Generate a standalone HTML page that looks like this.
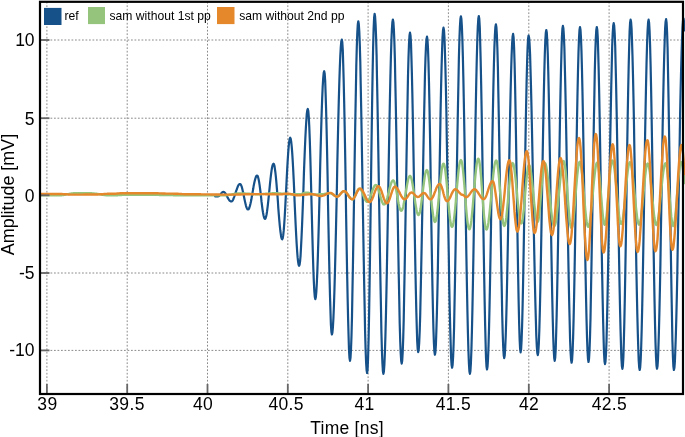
<!DOCTYPE html>
<html><head><meta charset="utf-8"><style>
html,body{margin:0;padding:0;background:#fff;}
body{width:685px;height:437px;overflow:hidden;position:relative;}
svg{position:absolute;left:0;top:0;will-change:transform;}
text{font-family:"Liberation Sans",sans-serif;fill:#000;}
</style></head><body>
<svg width="685" height="437" viewBox="0 0 685 437">
<defs><clipPath id="c"><rect x="41" y="0" width="644" height="393"/></clipPath></defs>
<g stroke="#8a8a8a" stroke-width="1" stroke-dasharray="1.75 1.75" fill="none">
<line x1="46.9" y1="1.8" x2="46.9" y2="394"/>
<line x1="127.2" y1="1.8" x2="127.2" y2="394"/>
<line x1="207.5" y1="1.8" x2="207.5" y2="394"/>
<line x1="287.8" y1="1.8" x2="287.8" y2="394"/>
<line x1="368.1" y1="1.8" x2="368.1" y2="394"/>
<line x1="448.4" y1="1.8" x2="448.4" y2="394"/>
<line x1="528.8" y1="1.8" x2="528.8" y2="394"/>
<line x1="609.1" y1="1.8" x2="609.1" y2="394"/>
<line x1="40" y1="40.0" x2="683" y2="40.0"/>
<line x1="40" y1="118.2" x2="683" y2="118.2"/>
<line x1="40" y1="273.0" x2="683" y2="273.0"/>
<line x1="40" y1="350.4" x2="683" y2="350.4"/>
</g>
<g clip-path="url(#c)" fill="none" stroke-linejoin="round" stroke-linecap="round">
<path d="M215.0 196.3L215.5 196.3 216.0 196.3 216.5 196.3 217.0 196.3 217.5 196.3 218.0 196.3 218.5 196.2 219.0 196.0 219.4 195.5 219.9 195.0 220.4 194.4 220.9 193.8 221.4 193.2 221.9 192.7 222.3 192.2 222.8 192.0 223.3 191.9 223.8 192.0 224.3 192.3 224.8 192.7 225.3 193.3 225.8 194.0 226.3 194.9 226.8 195.8 227.2 196.7 227.7 197.6 228.2 198.5 228.7 199.4 229.2 200.1 229.7 200.7 230.2 201.1 230.7 201.4 231.2 201.5 231.7 201.4 232.2 201.0 232.7 200.3 233.2 199.5 233.6 198.4 234.1 197.1 234.6 195.7 235.1 194.3 235.6 192.8 236.1 191.2 236.6 189.8 237.1 188.4 237.6 187.1 238.0 186.0 238.5 185.2 239.0 184.5 239.5 184.1 240.0 184.0 240.5 184.2 241.0 185.0 241.5 186.1 242.0 187.7 242.5 189.7 243.0 191.9 243.5 194.3 244.0 196.8 244.5 199.2 245.0 201.6 245.5 203.8 246.0 205.8 246.5 207.4 247.0 208.5 247.5 209.3 248.0 209.5 248.5 209.3 249.0 208.6 249.4 207.5 249.9 205.9 250.4 204.0 250.9 201.8 251.4 199.3 251.8 196.7 252.3 193.9 252.8 191.1 253.3 188.3 253.7 185.7 254.2 183.2 254.7 181.0 255.2 179.1 255.7 177.5 256.1 176.4 256.6 175.7 257.1 175.5 257.6 175.9 258.1 177.2 258.6 179.2 259.1 181.9 259.6 185.1 260.1 188.9 260.6 193.0 261.1 197.2 261.5 201.4 262.0 205.5 262.5 209.3 263.0 212.5 263.5 215.2 264.0 217.2 264.5 218.5 265.0 218.9 265.5 218.4 266.0 217.0 266.5 214.8 267.0 211.7 267.5 207.9 268.0 203.6 268.5 198.9 269.0 193.8 269.5 188.8 270.0 183.7 270.5 179.0 271.0 174.7 271.5 170.9 272.0 167.8 272.5 165.6 273.0 164.2 273.5 163.7 274.0 164.3 274.5 166.0 274.9 168.8 275.4 172.5 275.9 177.2 276.4 182.6 276.9 188.6 277.4 194.9 277.9 201.5 278.3 208.1 278.8 214.4 279.3 220.4 279.8 225.8 280.3 230.5 280.8 234.2 281.2 237.0 281.7 238.7 282.2 239.3 282.7 238.3 283.2 235.4 283.7 230.7 284.2 224.4 284.7 216.7 285.2 207.9 285.7 198.4 286.2 188.5 286.7 178.6 287.2 169.1 287.7 160.3 288.2 152.6 288.7 146.3 289.2 141.6 289.7 138.7 290.2 137.7 290.7 138.7 291.2 141.6 291.7 146.3 292.2 152.7 292.7 160.6 293.2 169.7 293.7 179.8 294.2 190.6 294.6 201.8 295.1 212.9 295.6 223.7 296.1 233.8 296.6 242.9 297.1 250.8 297.6 257.2 298.1 261.9 298.6 264.8 299.1 265.8 299.6 264.6 300.1 261.1 300.6 255.3 301.0 247.5 301.5 237.8 302.0 226.6 302.5 214.2 303.0 201.0 303.5 187.4 303.9 173.8 304.4 160.6 304.9 148.2 305.4 137.0 305.9 127.3 306.4 119.5 306.8 113.7 307.3 110.2 307.8 109.0 308.3 111.1 308.8 117.2 309.3 127.2 309.8 140.4 310.3 156.5 310.8 174.7 311.3 194.1 311.8 214.0 312.3 233.4 312.8 251.6 313.3 267.7 313.8 280.9 314.3 290.9 314.8 297.0 315.3 299.1 315.8 297.4 316.3 292.2 316.8 283.8 317.3 272.4 317.8 258.4 318.3 242.1 318.8 224.1 319.3 204.9 319.8 185.2 320.2 165.4 320.7 146.2 321.2 128.2 321.7 111.9 322.2 97.9 322.7 86.5 323.2 78.1 323.7 72.9 324.2 71.2 324.7 73.7 325.2 81.2 325.6 93.4 326.1 109.8 326.6 129.7 327.1 152.5 327.6 177.2 328.0 202.8 328.5 228.5 329.0 253.2 329.5 276.0 330.0 295.9 330.5 312.3 330.9 324.5 331.4 332.0 331.9 334.5 332.4 332.7 332.9 327.3 333.4 318.4 333.9 306.3 334.4 291.3 334.9 273.7 335.4 254.0 335.9 232.6 336.4 210.1 336.9 187.1 337.3 164.0 337.8 141.5 338.3 120.1 338.8 100.4 339.3 82.8 339.8 67.8 340.3 55.7 340.8 46.8 341.3 41.4 341.8 39.6 342.3 42.3 342.8 50.4 343.2 63.7 343.7 81.5 344.2 103.4 344.7 128.6 345.2 156.2 345.7 185.4 346.1 215.0 346.6 244.2 347.1 271.8 347.6 297.0 348.1 318.9 348.6 336.7 349.0 350.0 349.5 358.1 350.0 360.8 350.5 357.9 351.0 349.3 351.5 335.4 352.0 316.5 352.4 293.3 352.9 266.7 353.4 237.5 353.9 206.7 354.4 175.4 354.9 144.6 355.4 115.4 355.9 88.8 356.3 65.6 356.8 46.7 357.3 32.8 357.8 24.2 358.3 21.3 358.8 24.0 359.3 31.9 359.8 44.9 360.3 62.4 360.7 84.1 361.2 109.2 361.7 137.0 362.2 166.6 362.7 197.1 363.2 227.7 363.7 257.3 364.2 285.1 364.7 310.2 365.1 331.9 365.6 349.4 366.1 362.4 366.6 370.3 367.1 373.0 367.6 369.1 368.1 357.5 368.6 338.7 369.1 313.6 369.6 283.2 370.1 248.9 370.6 212.2 371.1 174.6 371.6 137.9 372.1 103.6 372.6 73.2 373.1 48.1 373.6 29.3 374.1 17.7 374.6 13.8 375.1 16.5 375.6 24.7 376.1 37.9 376.6 55.9 377.0 78.1 377.5 103.8 378.0 132.3 378.5 162.6 379.0 193.8 379.5 225.1 380.0 255.4 380.5 283.9 381.0 309.6 381.4 331.8 381.9 349.8 382.4 363.0 382.9 371.2 383.4 373.9 383.9 371.5 384.4 364.3 384.9 352.5 385.4 336.5 385.9 316.7 386.4 293.6 386.9 267.9 387.4 240.2 387.9 211.3 388.4 182.1 388.9 153.2 389.4 125.5 389.9 99.8 390.4 76.7 390.9 56.9 391.4 40.9 391.9 29.1 392.4 21.9 392.9 19.5 393.4 22.1 393.9 29.9 394.4 42.6 394.9 59.8 395.3 81.0 395.8 105.5 396.3 132.7 396.8 161.7 397.3 191.5 397.8 221.4 398.3 250.4 398.8 277.6 399.3 302.1 399.7 323.3 400.2 340.5 400.7 353.2 401.2 361.0 401.7 363.6 402.2 360.8 402.7 352.4 403.2 338.8 403.7 320.4 404.1 297.9 404.6 271.9 405.1 243.4 405.6 213.4 406.1 182.9 406.6 152.9 407.1 124.4 407.6 98.4 408.0 75.9 408.5 57.5 409.0 43.9 409.5 35.5 410.0 32.7 410.5 35.4 411.0 43.5 411.4 56.6 411.9 74.4 412.4 96.2 412.9 121.2 413.4 148.7 413.9 177.7 414.3 207.1 414.8 236.1 415.3 263.6 415.8 288.6 416.3 310.4 416.8 328.2 417.2 341.3 417.7 349.4 418.2 352.1 418.7 349.7 419.2 342.6 419.7 331.0 420.2 315.2 420.6 295.7 421.1 273.2 421.6 248.3 422.1 221.7 422.6 194.4 423.1 167.0 423.6 140.4 424.1 115.5 424.6 93.0 425.0 73.5 425.5 57.7 426.0 46.1 426.5 39.0 427.0 36.6 427.5 39.7 428.0 48.7 428.5 63.4 429.0 83.2 429.5 107.3 430.0 134.8 430.5 164.6 430.9 195.6 431.4 226.7 431.9 256.5 432.4 284.0 432.9 308.1 433.4 327.9 433.9 342.6 434.4 351.6 434.9 354.7 435.4 352.2 435.9 344.8 436.3 332.8 436.8 316.4 437.3 296.3 437.8 272.9 438.2 247.1 438.7 219.6 439.2 191.2 439.7 162.8 440.2 135.3 440.6 109.5 441.1 86.1 441.6 66.0 442.1 49.6 442.5 37.6 443.0 30.2 443.5 27.7 444.0 30.3 444.5 38.0 444.9 50.5 445.4 67.5 445.9 88.4 446.4 112.7 446.8 139.6 447.3 168.2 447.8 197.7 448.3 227.2 448.8 255.8 449.2 282.7 449.7 307.0 450.2 327.9 450.7 344.9 451.1 357.4 451.6 365.1 452.1 367.7 452.6 365.0 453.1 357.1 453.6 344.2 454.1 326.6 454.5 304.9 455.0 279.9 455.5 252.1 456.0 222.5 456.5 192.0 457.0 161.5 457.5 131.9 458.0 104.2 458.5 79.1 458.9 57.4 459.4 39.8 459.9 26.9 460.4 19.0 460.9 16.3 461.4 19.0 461.9 27.1 462.4 40.3 462.9 58.1 463.4 80.2 463.9 105.7 464.4 133.9 464.9 164.1 465.4 195.1 465.9 226.1 466.4 256.3 466.9 284.5 467.4 310.0 467.9 332.1 468.4 349.9 468.9 363.1 469.4 371.2 469.9 373.9 470.4 371.2 470.9 363.1 471.4 349.9 471.9 332.0 472.4 310.0 472.9 284.4 473.4 256.2 473.9 226.0 474.4 195.0 474.8 163.9 475.3 133.7 475.8 105.5 476.3 79.9 476.8 57.9 477.3 40.0 477.8 26.8 478.3 18.7 478.8 16.0 479.3 19.0 479.8 27.9 480.2 42.5 480.7 62.1 481.2 86.2 481.7 114.0 482.2 144.4 482.7 176.4 483.1 209.1 483.6 241.1 484.1 271.5 484.6 299.3 485.1 323.4 485.6 343.0 486.0 357.6 486.5 366.5 487.0 369.5 487.5 366.9 488.0 359.1 488.5 346.4 489.0 329.1 489.5 307.8 490.0 283.2 490.5 255.9 491.0 226.9 491.4 196.9 491.9 166.9 492.4 137.9 492.9 110.6 493.4 86.0 493.9 64.7 494.4 47.4 494.9 34.7 495.4 26.9 495.9 24.3 496.4 27.1 496.9 35.6 497.4 49.3 497.9 67.9 498.3 90.6 498.8 116.8 499.3 145.5 499.8 175.8 500.3 206.6 500.8 236.9 501.3 265.6 501.8 291.8 502.2 314.5 502.7 333.1 503.2 346.8 503.7 355.3 504.2 358.1 504.7 355.6 505.2 348.3 505.7 336.4 506.2 320.2 506.7 300.2 507.2 277.1 507.7 251.4 508.2 224.1 508.6 196.0 509.1 167.9 509.6 140.6 510.1 115.0 510.6 91.8 511.1 71.8 511.6 55.6 512.1 43.7 512.6 36.4 513.1 33.9 513.6 37.4 514.1 47.7 514.6 64.3 515.1 86.6 515.6 113.5 516.1 143.9 516.6 176.5 517.1 209.8 517.6 242.4 518.1 272.8 518.6 299.7 519.1 322.0 519.6 338.6 520.1 348.9 520.6 352.4 521.1 349.4 521.6 340.3 522.1 325.7 522.6 306.0 523.1 282.0 523.6 254.6 524.1 224.9 524.6 194.0 525.1 163.0 525.6 133.3 526.1 105.9 526.6 81.9 527.1 62.2 527.6 47.6 528.1 38.5 528.6 35.5 529.1 37.7 529.6 44.2 530.1 54.8 530.5 69.2 531.0 87.1 531.5 107.9 532.0 131.1 532.5 156.1 533.0 182.1 533.4 208.5 533.9 234.5 534.4 259.5 534.9 282.7 535.4 303.5 535.9 321.4 536.3 335.8 536.8 346.4 537.3 352.9 537.8 355.1 538.3 352.3 538.8 344.1 539.3 330.8 539.8 312.7 540.3 290.5 540.8 265.0 541.3 237.0 541.8 207.5 542.3 177.6 542.8 148.1 543.3 120.1 543.8 94.6 544.3 72.4 544.8 54.3 545.3 41.0 545.8 32.8 546.3 30.0 546.8 32.8 547.3 41.2 547.8 54.8 548.3 73.2 548.8 95.7 549.3 121.7 549.8 150.1 550.3 180.1 550.7 210.7 551.2 240.7 551.7 269.1 552.2 295.1 552.7 317.6 553.2 336.0 553.7 349.6 554.2 358.0 554.7 360.8 555.2 357.9 555.7 349.5 556.1 335.7 556.6 317.1 557.1 294.3 557.6 268.0 558.1 239.2 558.6 208.8 559.0 177.9 559.5 147.5 560.0 118.7 560.5 92.4 561.0 69.6 561.5 51.0 561.9 37.2 562.4 28.8 562.9 25.9 563.4 28.5 563.9 36.1 564.4 48.5 564.8 65.3 565.3 86.1 565.8 110.1 566.3 136.7 566.8 165.1 567.2 194.3 567.7 223.5 568.2 251.9 568.7 278.5 569.2 302.5 569.7 323.3 570.1 340.1 570.6 352.5 571.1 360.1 571.6 362.7 572.1 359.8 572.6 351.4 573.1 337.6 573.6 318.9 574.1 296.0 574.6 269.7 575.1 240.8 575.6 210.3 576.0 179.4 576.5 148.9 577.0 120.0 577.5 93.7 578.0 70.8 578.5 52.1 579.0 38.3 579.5 29.9 580.0 27.0 580.5 29.9 581.0 38.3 581.5 52.1 582.0 70.7 582.5 93.6 583.0 119.8 583.5 148.7 584.0 179.0 584.5 210.0 585.0 240.3 585.5 269.2 586.0 295.4 586.5 318.3 587.0 336.9 587.5 350.7 588.0 359.1 588.5 362.0 589.0 359.1 589.5 350.7 590.0 336.9 590.5 318.3 590.9 295.4 591.4 269.2 591.9 240.3 592.4 210.0 592.9 179.0 593.4 148.7 593.9 119.8 594.4 93.6 594.8 70.7 595.3 52.1 595.8 38.3 596.3 29.9 596.8 27.0 597.3 29.9 597.8 38.4 598.2 52.2 598.7 71.0 599.2 94.0 599.7 120.4 600.2 149.4 600.7 180.0 601.1 211.1 601.6 241.7 602.1 270.7 602.6 297.1 603.1 320.1 603.6 338.9 604.0 352.7 604.5 361.2 605.0 364.1 605.5 361.5 606.0 353.8 606.5 341.3 606.9 324.2 607.4 303.2 607.9 278.9 608.4 251.9 608.9 223.2 609.4 193.6 609.8 164.0 610.3 135.3 610.8 108.4 611.3 84.0 611.8 63.0 612.2 45.9 612.7 33.4 613.2 25.7 613.7 23.1 614.2 25.7 614.7 33.5 615.2 46.3 615.6 63.5 616.1 84.8 616.6 109.5 617.1 136.8 617.6 165.9 618.0 195.9 618.5 226.0 619.0 255.1 619.5 282.4 620.0 307.1 620.5 328.4 621.0 345.6 621.4 358.4 621.9 366.2 622.4 368.8 622.9 365.8 623.4 357.0 623.8 342.6 624.3 323.2 624.8 299.4 625.3 272.0 625.8 242.0 626.3 210.3 626.7 178.1 627.2 146.4 627.7 116.4 628.2 89.0 628.7 65.2 629.2 45.8 629.6 31.4 630.1 22.6 630.6 19.6 631.1 22.0 631.6 29.1 632.0 40.7 632.5 56.5 633.0 76.1 633.5 99.0 634.0 124.4 634.4 151.8 634.9 180.3 635.4 209.3 635.9 237.8 636.3 265.2 636.8 290.6 637.3 313.5 637.8 333.1 638.3 348.9 638.7 360.5 639.2 367.6 639.7 370.0 640.2 367.3 640.7 359.4 641.2 346.5 641.7 329.0 642.2 307.4 642.7 282.4 643.2 254.7 643.7 225.2 644.2 194.8 644.6 164.4 645.1 134.9 645.6 107.2 646.1 82.2 646.6 60.6 647.1 43.1 647.6 30.2 648.1 22.3 648.6 19.6 649.1 22.6 649.6 31.4 650.1 45.7 650.6 65.2 651.1 89.0 651.6 116.3 652.1 146.4 652.6 178.0 653.0 210.3 653.5 241.9 654.0 272.0 654.5 299.3 655.0 323.1 655.5 342.6 656.0 356.9 656.5 365.7 657.0 368.7 657.5 366.3 658.0 359.2 658.4 347.6 658.9 331.9 659.4 312.3 659.9 289.5 660.4 264.1 660.8 236.8 661.3 208.4 661.8 179.5 662.3 151.1 662.7 123.8 663.2 98.4 663.7 75.6 664.2 56.0 664.7 40.3 665.1 28.7 665.6 21.6 666.1 19.2 666.6 22.6 667.1 32.6 667.6 48.8 668.0 70.6 668.5 97.2 669.0 127.5 669.5 160.4 670.0 194.6 670.5 228.8 671.0 261.7 671.5 292.0 672.0 318.6 672.4 340.4 672.9 356.6 673.4 366.6 673.9 370.0 674.4 367.8 674.9 361.4 675.3 350.8 675.8 336.4 676.3 318.5 676.8 297.6 677.3 274.0 677.7 248.6 678.2 221.7 678.7 194.3 679.2 166.8 679.7 139.9 680.1 114.5 680.6 90.9 681.1 70.0 681.6 52.1 682.1 37.7 682.5 27.1 683.0 20.7 683.5 18.5 684.0 21.5 684.5 30.4" stroke="#165189" stroke-width="2.2"/>
<path d="M41.0 195.4L41.5 195.4 42.0 195.4 42.5 195.4 43.0 195.4 43.5 195.4 44.0 195.4 44.5 195.4 45.0 195.4 45.5 195.4 46.0 195.4 46.5 195.4 47.0 195.4 47.5 195.3 48.0 195.3 48.5 195.3 49.0 195.3 49.5 195.3 50.0 195.3 50.5 195.3 51.0 195.3 51.5 195.3 52.0 195.3 52.5 195.3 53.0 195.3 53.5 195.3 54.0 195.2 54.5 195.2 55.0 195.2 55.5 195.2 56.0 195.2 56.5 195.2 57.0 195.2 57.5 195.2 58.0 195.2 58.5 195.2 59.0 195.2 59.5 195.2 60.0 195.2 60.5 195.2 61.0 195.2 61.5 195.2 62.0 195.1 62.5 195.1 63.0 195.0 63.5 195.0 64.0 194.9 64.5 194.8 65.0 194.7 65.5 194.6 66.0 194.5 66.5 194.4 67.0 194.3 67.5 194.2 68.0 194.2 68.5 194.1 69.0 194.0 69.5 193.9 70.0 193.8 70.5 193.7 71.0 193.6 71.5 193.5 72.0 193.5 72.5 193.4 73.0 193.4 73.5 193.3 74.0 193.3 74.5 193.3 75.0 193.3 75.5 193.3 76.0 193.3 76.5 193.3 77.0 193.3 77.5 193.3 78.0 193.3 78.5 193.3 79.0 193.3 79.5 193.3 80.0 193.3 80.5 193.3 81.0 193.3 81.5 193.3 82.0 193.3 82.5 193.3 83.0 193.3 83.5 193.3 84.0 193.3 84.5 193.3 85.0 193.3 85.5 193.3 86.0 193.3 86.5 193.3 87.0 193.3 87.5 193.3 88.0 193.3 88.5 193.3 89.0 193.3 89.5 193.3 90.0 193.3 90.5 193.3 91.0 193.3 91.5 193.3 92.0 193.4 92.5 193.4 93.0 193.4 93.5 193.5 94.0 193.5 94.5 193.6 95.0 193.6 95.5 193.7 96.0 193.7 96.5 193.8 97.0 193.9 97.5 193.9 98.0 194.0 98.5 194.1 99.0 194.2 99.5 194.3 100.0 194.3 100.5 194.4 101.0 194.5 101.5 194.6 102.0 194.7 102.5 194.8 103.0 194.8 103.5 194.9 104.0 195.0 104.5 195.0 105.0 195.1 105.5 195.1 106.0 195.2 106.5 195.2 107.0 195.3 107.5 195.3 108.0 195.3 108.5 195.4 109.0 195.4 109.5 195.4 110.0 195.4 110.5 195.4 111.0 195.4 111.5 195.4 112.0 195.4 112.5 195.4 113.0 195.4 113.5 195.3 114.0 195.3 114.5 195.3 115.0 195.3 115.5 195.3 116.0 195.2 116.5 195.2 117.0 195.2 117.5 195.2 118.0 195.1 118.5 195.1 119.0 195.1 119.5 195.0 120.0 195.0 120.5 195.0 121.0 195.0 121.5 195.0 122.0 194.9 122.5 194.9 123.0 194.9 123.5 194.9 124.0 194.9 124.5 194.9 125.0 194.9 125.5 194.9 126.0 194.9 126.5 194.9 127.0 194.9 127.5 194.9 128.0 194.9 128.5 194.9 129.0 194.9 129.5 194.9 130.0 194.9 130.5 194.9 131.0 194.9 131.5 194.9 132.0 194.9 132.5 194.9 133.0 194.9 133.5 194.9 134.0 194.9 134.5 194.9 135.0 194.9 135.5 194.9 136.0 194.9 136.5 194.9 137.0 194.9 137.5 194.9 138.0 194.9 138.5 194.9 139.0 194.9 139.5 194.9 140.0 194.9 140.5 194.9 141.0 194.9 141.5 194.9 142.0 194.9 142.5 194.9 143.0 194.9 143.5 194.9 144.0 194.9 144.5 194.9 145.0 194.9 145.5 194.9 146.0 194.9 146.5 194.9 147.0 194.9 147.5 194.9 148.0 194.9 148.5 194.9 149.0 194.9 149.5 194.9 150.0 194.9 150.5 194.9 151.0 194.9 151.5 194.9 152.0 194.9 152.5 194.9 153.0 194.9 153.5 194.9 154.0 194.9 154.5 194.9 155.0 194.9 155.5 194.9 156.0 194.9 156.5 194.9 157.0 194.9 157.5 194.9 158.0 194.9 158.5 194.9 159.0 194.9 159.5 195.0 160.0 195.0 160.5 195.0 161.0 195.0 161.5 195.0 162.0 195.0 162.5 195.0 163.0 195.0 163.5 195.0 164.0 195.0 164.5 195.0 165.0 195.0 165.5 195.0 166.0 195.0 166.5 195.0 167.0 195.1 167.5 195.1 168.0 195.1 168.5 195.1 169.0 195.1 169.5 195.1 170.0 195.1 170.5 195.1 171.0 195.1 171.5 195.1 172.0 195.1 172.5 195.1 173.0 195.1 173.5 195.2 174.0 195.2 174.5 195.2 175.0 195.2 175.5 195.2 176.0 195.2 176.5 195.2 177.0 195.2 177.5 195.2 178.0 195.2 178.5 195.2 179.0 195.2 179.5 195.2 180.0 195.2 180.5 195.2 181.0 195.3 181.5 195.3 182.0 195.3 182.5 195.3 183.0 195.3 183.5 195.3 184.0 195.3 184.5 195.3 185.0 195.3 185.5 195.3 186.0 195.3 186.5 195.3 187.0 195.3 187.5 195.3 188.0 195.3 188.5 195.3 189.0 195.3 189.5 195.3 190.0 195.3 190.5 195.3 191.0 195.3 191.5 195.3 192.0 195.3 192.5 195.3 193.0 195.3 193.5 195.3 194.0 195.3 194.5 195.3 195.0 195.3 195.5 195.3 196.0 195.3 196.5 195.3 197.0 195.3 197.5 195.3 198.0 195.3 198.5 195.3 199.0 195.3 199.5 195.3 200.0 195.3 200.5 195.3 201.0 195.3 201.5 195.3 202.0 195.3 202.5 195.3 203.0 195.3 203.5 195.3 204.0 195.3 204.5 195.3 205.0 195.3 205.5 195.3 206.0 195.3 206.5 195.3 207.0 195.3 207.5 195.2 208.0 195.2 208.5 195.2 209.0 195.2 209.5 195.2 210.0 195.2 210.5 195.2 211.0 195.2 211.5 195.2 212.0 195.2 212.5 195.2 213.0 195.2 213.5 195.2 214.0 195.2 214.5 195.2 215.0 195.2 215.5 195.2 216.0 195.2 216.5 195.2 217.0 195.2 217.5 195.2 218.0 195.2 218.5 195.2 219.0 195.2 219.5 195.2 220.0 195.2 220.5 195.2 221.0 195.2 221.5 195.2 222.0 195.2 222.5 195.2 223.0 195.2 223.5 195.2 224.0 195.2 224.5 195.2 225.0 195.2 225.5 195.2 226.0 195.2 226.5 195.2 227.0 195.1 227.5 195.1 228.0 195.0 228.5 195.0 229.0 194.9 229.5 194.8 230.0 194.8 230.5 194.7 231.0 194.6 231.5 194.5 232.0 194.4 232.5 194.3 233.0 194.2 233.5 194.1 234.0 194.0 234.5 193.9 235.0 193.8 235.5 193.8 236.0 193.7 236.5 193.6 237.0 193.6 237.5 193.5 238.0 193.5 238.5 193.4 239.0 193.4 239.5 193.4 240.0 193.4 240.5 193.4 241.0 193.4 241.5 193.4 242.0 193.4 242.5 193.4 243.0 193.5 243.5 193.5 244.0 193.5 244.5 193.5 245.0 193.5 245.5 193.6 246.0 193.6 246.5 193.6 247.0 193.7 247.5 193.7 248.0 193.7 248.5 193.8 249.0 193.8 249.5 193.8 250.0 193.9 250.5 193.9 251.0 193.9 251.5 194.0 252.0 194.0 252.5 194.0 253.0 194.1 253.5 194.1 254.0 194.1 254.5 194.1 255.0 194.1 255.5 194.2 256.0 194.2 256.5 194.2 257.0 194.2 257.5 194.2 258.0 194.2 258.5 194.2 259.0 194.2 259.5 194.2 260.0 194.2 260.5 194.2 261.0 194.1 261.5 194.1 262.0 194.1 262.5 194.1 263.0 194.0 263.5 194.0 264.0 194.0 264.5 193.9 265.0 193.9 265.5 193.8 266.0 193.8 266.5 193.8 267.0 193.7 267.5 193.7 268.0 193.6 268.5 193.6 269.0 193.5 269.5 193.5 270.0 193.5 270.5 193.4 271.0 193.4 271.5 193.4 272.0 193.4 272.5 193.3 273.0 193.3 273.5 193.3 274.0 193.3 274.5 193.3 275.0 193.3 275.5 193.3 276.0 193.3 276.5 193.3 277.0 193.3 277.5 193.4 278.0 193.4 278.5 193.4 279.0 193.4 279.5 193.5 280.0 193.5 280.5 193.5 281.0 193.6 281.5 193.6 282.0 193.7 282.5 193.7 283.0 193.8 283.5 193.8 284.0 193.8 284.5 193.9 285.0 193.9 285.5 194.0 286.0 194.0 286.5 194.1 287.0 194.1 287.5 194.1 288.0 194.2 288.5 194.2 289.0 194.2 289.5 194.2 290.0 194.3 290.5 194.3 291.0 194.3 291.5 194.3 292.0 194.3 292.5 194.3 293.0 194.3 293.5 194.3 294.0 194.3 294.5 194.3 295.0 194.3 295.5 194.3 296.0 194.2 296.5 194.2 297.0 194.2 297.5 194.2 298.0 194.2 298.5 194.2 299.0 194.2 299.5 194.2 300.0 194.2 300.5 194.2 301.0 194.1 301.5 194.0 302.0 193.9 302.5 193.7 303.0 193.6 303.4 193.4 303.9 193.2 304.4 193.1 304.9 192.9 305.4 192.8 305.9 192.7 306.4 192.6 306.9 192.6 307.4 192.6 307.8 192.7 308.3 192.8 308.8 192.9 309.3 193.1 309.7 193.3 310.2 193.5 310.7 193.6 311.2 193.8 311.6 194.0 312.1 194.2 312.6 194.3 313.1 194.4 313.5 194.5 314.0 194.5 314.5 194.5 315.0 194.5 315.5 194.5 315.9 194.5 316.4 194.5 316.9 194.4 317.4 194.4 317.9 194.4 318.4 194.4 318.9 194.4 319.4 194.3 319.8 194.3 320.3 194.3 320.8 194.3 321.3 194.3 321.8 194.3 322.3 194.3 322.8 194.2 323.2 194.2 323.7 194.1 324.2 194.0 324.7 193.9 325.2 193.8 325.6 193.8 326.1 193.7 326.6 193.6 327.1 193.5 327.6 193.4 328.1 193.3 328.6 193.3 329.0 193.2 329.5 193.2 330.0 193.2 330.5 193.2 331.0 193.4 331.5 193.6 332.0 193.8 332.5 194.1 333.0 194.5 333.5 194.8 334.0 195.2 334.5 195.6 335.0 195.9 335.5 196.1 336.0 196.3 336.5 196.5 337.0 196.5 337.5 196.4 337.9 196.3 338.4 196.0 338.9 195.6 339.4 195.2 339.8 194.6 340.3 194.1 340.8 193.5 341.3 193.0 341.7 192.4 342.2 192.0 342.7 191.6 343.2 191.3 343.6 191.2 344.1 191.1 344.6 191.2 345.1 191.4 345.5 191.7 346.0 192.2 346.5 192.7 347.0 193.4 347.5 194.1 348.0 194.8 348.4 195.6 348.9 196.3 349.4 197.0 349.9 197.7 350.4 198.2 350.9 198.7 351.3 199.0 351.8 199.2 352.3 199.3 352.8 199.2 353.3 198.8 353.7 198.3 354.2 197.5 354.7 196.6 355.2 195.6 355.7 194.5 356.1 193.4 356.6 192.3 357.1 191.3 357.6 190.4 358.1 189.6 358.5 189.1 359.0 188.7 359.5 188.6 360.0 188.7 360.4 189.1 360.9 189.7 361.4 190.5 361.9 191.5 362.4 192.7 362.8 193.9 363.3 195.2 363.8 196.5 364.2 197.7 364.7 198.9 365.2 199.9 365.7 200.7 366.2 201.3 366.6 201.7 367.1 201.8 367.6 201.7 368.1 201.3 368.6 200.7 369.0 199.8 369.5 198.8 370.0 197.6 370.5 196.3 371.0 194.9 371.5 193.4 371.9 191.9 372.4 190.5 372.9 189.2 373.4 188.0 373.9 187.0 374.4 186.1 374.8 185.5 375.3 185.1 375.8 185.0 376.3 185.2 376.8 185.7 377.2 186.5 377.7 187.5 378.2 188.9 378.7 190.4 379.2 192.1 379.7 193.9 380.1 195.6 380.6 197.4 381.1 199.1 381.6 200.6 382.1 202.0 382.6 203.0 383.0 203.8 383.5 204.3 384.0 204.5 384.5 204.3 385.0 203.8 385.5 203.0 385.9 202.0 386.4 200.6 386.9 199.0 387.4 197.3 387.9 195.4 388.4 193.4 388.8 191.5 389.3 189.5 389.8 187.6 390.3 185.9 390.8 184.3 391.3 182.9 391.7 181.9 392.2 181.1 392.7 180.6 393.2 180.4 393.7 180.7 394.2 181.6 394.7 183.0 395.2 184.9 395.7 187.2 396.2 189.8 396.7 192.6 397.2 195.6 397.7 198.6 398.2 201.4 398.7 204.0 399.2 206.3 399.7 208.2 400.2 209.6 400.7 210.5 401.2 210.8 401.7 210.5 402.2 209.7 402.7 208.5 403.2 206.7 403.6 204.6 404.1 202.1 404.6 199.3 405.1 196.4 405.6 193.4 406.1 190.3 406.6 187.4 407.1 184.6 407.6 182.1 408.0 180.0 408.5 178.2 409.0 177.0 409.5 176.2 410.0 175.9 410.5 176.2 411.0 177.2 411.5 178.8 412.0 181.0 412.5 183.7 413.0 186.7 413.5 190.1 414.0 193.6 414.5 197.3 415.0 200.8 415.5 204.2 416.0 207.2 416.5 209.9 417.0 212.1 417.5 213.7 418.0 214.7 418.5 215.0 419.0 214.6 419.5 213.5 420.0 211.6 420.5 209.1 420.9 206.1 421.4 202.6 421.9 198.7 422.4 194.6 422.9 190.5 423.4 186.4 423.9 182.5 424.4 179.0 424.8 176.0 425.3 173.5 425.8 171.6 426.3 170.5 426.8 170.1 427.3 170.5 427.8 171.9 428.2 174.0 428.7 176.9 429.2 180.4 429.7 184.5 430.2 188.9 430.7 193.7 431.1 198.4 431.6 203.2 432.1 207.6 432.6 211.7 433.1 215.2 433.6 218.1 434.0 220.2 434.5 221.6 435.0 222.0 435.5 221.5 436.0 220.0 436.5 217.6 437.0 214.4 437.5 210.4 438.0 205.8 438.5 200.8 439.0 195.5 439.5 190.2 440.0 184.9 440.5 179.9 441.0 175.3 441.5 171.3 442.0 168.1 442.5 165.7 443.0 164.2 443.5 163.7 444.0 164.2 444.5 165.8 445.0 168.4 445.5 172.0 446.0 176.3 446.5 181.2 447.0 186.7 447.5 192.4 448.0 198.3 448.5 204.0 449.0 209.5 449.5 214.4 450.0 218.7 450.5 222.3 451.0 224.9 451.5 226.5 452.0 227.0 452.5 226.5 453.0 225.0 453.5 222.5 454.0 219.2 454.5 215.1 455.0 210.3 455.5 205.0 456.0 199.4 456.4 193.6 456.9 187.7 457.4 182.1 457.9 176.8 458.4 172.0 458.9 167.9 459.4 164.6 459.9 162.1 460.4 160.6 460.9 160.1 461.4 160.7 461.9 162.4 462.4 165.3 462.9 169.1 463.4 173.8 463.9 179.3 464.4 185.2 464.9 191.5 465.3 197.9 465.8 204.2 466.3 210.1 466.8 215.6 467.3 220.3 467.8 224.1 468.3 227.0 468.8 228.7 469.3 229.3 469.8 228.8 470.3 227.2 470.8 224.6 471.3 221.0 471.8 216.7 472.3 211.7 472.8 206.1 473.3 200.1 473.8 194.0 474.3 187.9 474.8 181.9 475.3 176.3 475.8 171.3 476.3 167.0 476.8 163.4 477.3 160.8 477.8 159.2 478.3 158.7 478.8 159.3 479.3 161.1 479.7 164.0 480.2 168.0 480.7 172.8 481.2 178.3 481.6 184.4 482.1 190.9 482.6 197.4 483.1 203.9 483.5 210.0 484.0 215.5 484.5 220.3 485.0 224.3 485.4 227.2 485.9 229.0 486.4 229.6 486.9 229.2 487.4 227.9 487.9 225.8 488.4 223.0 488.8 219.5 489.3 215.4 489.8 210.7 490.3 205.7 490.8 200.5 491.3 195.1 491.8 189.6 492.3 184.4 492.8 179.4 493.3 174.7 493.8 170.6 494.2 167.1 494.7 164.3 495.2 162.2 495.7 160.9 496.2 160.5 496.7 161.1 497.2 162.7 497.6 165.4 498.1 169.0 498.6 173.5 499.1 178.6 499.5 184.3 500.0 190.2 500.5 196.2 501.0 202.1 501.4 207.8 501.9 212.9 502.4 217.4 502.9 221.0 503.3 223.7 503.8 225.3 504.3 225.9 504.8 225.4 505.3 223.8 505.8 221.2 506.3 217.7 506.7 213.4 507.2 208.5 507.7 203.1 508.2 197.4 508.7 191.5 509.2 185.8 509.7 180.4 510.2 175.5 510.6 171.2 511.1 167.7 511.6 165.1 512.1 163.5 512.6 163.0 513.1 163.5 513.6 164.8 514.0 167.1 514.5 170.1 515.0 173.8 515.5 178.1 516.0 182.9 516.5 188.0 517.0 193.2 517.4 198.5 517.9 203.6 518.4 208.4 518.9 212.7 519.4 216.4 519.8 219.4 520.3 221.7 520.8 223.0 521.3 223.5 521.8 222.9 522.3 221.3 522.7 218.6 523.2 214.9 523.7 210.5 524.2 205.4 524.7 200.0 525.1 194.2 525.6 188.5 526.1 183.1 526.6 178.0 527.1 173.6 527.6 169.9 528.0 167.2 528.5 165.6 529.0 165.0 529.5 165.5 530.0 166.9 530.5 169.3 531.0 172.4 531.5 176.3 532.0 180.8 532.5 185.7 533.0 190.9 533.5 196.1 534.0 201.3 534.5 206.2 535.0 210.7 535.5 214.6 536.0 217.7 536.5 220.1 537.0 221.5 537.5 222.0 538.0 221.4 538.5 219.5 539.0 216.4 539.4 212.3 539.9 207.3 540.4 201.7 540.9 195.6 541.4 189.5 541.9 183.4 542.4 177.8 542.9 172.8 543.3 168.7 543.8 165.6 544.3 163.7 544.8 163.1 545.3 163.5 545.8 164.8 546.3 166.9 546.8 169.7 547.3 173.2 547.8 177.3 548.3 181.9 548.8 186.8 549.3 192.0 549.8 197.1 550.3 202.3 550.8 207.2 551.3 211.8 551.8 215.9 552.3 219.4 552.8 222.2 553.3 224.3 553.8 225.6 554.3 226.0 554.8 225.6 555.3 224.2 555.8 222.1 556.3 219.2 556.7 215.5 557.2 211.3 557.7 206.6 558.2 201.5 558.7 196.2 559.2 190.9 559.7 185.6 560.2 180.5 560.7 175.8 561.2 171.6 561.6 167.9 562.1 165.0 562.6 162.9 563.1 161.5 563.6 161.1 564.1 161.7 564.6 163.7 565.1 166.7 565.6 170.9 566.1 176.0 566.6 181.8 567.1 188.1 567.5 194.6 568.0 201.1 568.5 207.4 569.0 213.2 569.5 218.3 570.0 222.5 570.5 225.5 571.0 227.5 571.5 228.1 572.0 227.5 572.5 225.9 572.9 223.1 573.4 219.4 573.9 214.9 574.4 209.7 574.9 204.0 575.4 198.0 575.8 191.9 576.3 185.9 576.8 180.2 577.3 175.0 577.8 170.5 578.3 166.8 578.7 164.0 579.2 162.4 579.7 161.8 580.2 162.4 580.7 164.0 581.2 166.7 581.7 170.3 582.2 174.7 582.7 179.8 583.2 185.4 583.7 191.3 584.2 197.3 584.7 203.2 585.2 208.8 585.7 213.9 586.2 218.3 586.7 221.9 587.2 224.6 587.7 226.2 588.2 226.8 588.7 226.3 589.2 224.9 589.7 222.5 590.2 219.3 590.7 215.3 591.2 210.7 591.7 205.6 592.2 200.2 592.7 194.7 593.2 189.1 593.7 183.7 594.2 178.6 594.7 174.0 595.2 170.0 595.7 166.8 596.2 164.4 596.7 163.0 597.2 162.5 597.7 163.2 598.2 165.2 598.7 168.4 599.2 172.8 599.7 178.0 600.2 184.0 600.7 190.3 601.2 196.9 601.7 203.2 602.2 209.1 602.7 214.4 603.2 218.8 603.7 222.0 604.2 224.0 604.7 224.7 605.2 224.1 605.7 222.3 606.1 219.3 606.6 215.3 607.1 210.4 607.5 204.9 608.0 198.9 608.5 192.6 609.0 186.3 609.5 180.3 609.9 174.8 610.4 169.9 610.9 165.9 611.3 162.9 611.8 161.1 612.3 160.5 612.8 161.0 613.3 162.4 613.8 164.8 614.3 167.9 614.8 171.8 615.3 176.4 615.8 181.4 616.3 186.7 616.8 192.2 617.2 197.8 617.7 203.1 618.2 208.1 618.7 212.7 619.2 216.6 619.7 219.7 620.2 222.1 620.7 223.5 621.2 224.0 621.7 223.5 622.2 222.1 622.7 219.9 623.1 216.8 623.6 213.0 624.1 208.6 624.6 203.7 625.1 198.5 625.5 193.1 626.0 187.7 626.5 182.5 627.0 177.7 627.5 173.2 628.0 169.4 628.5 166.3 628.9 164.1 629.4 162.7 629.9 162.2 630.4 162.6 630.9 163.9 631.4 166.0 631.9 168.8 632.3 172.3 632.8 176.4 633.3 180.9 633.8 185.8 634.3 190.9 634.8 196.0 635.3 201.1 635.8 206.0 636.3 210.5 636.8 214.6 637.2 218.1 637.7 220.9 638.2 223.0 638.7 224.3 639.2 224.7 639.7 224.2 640.2 222.6 640.7 220.1 641.2 216.7 641.7 212.5 642.2 207.7 642.7 202.5 643.2 196.9 643.7 191.3 644.2 185.7 644.7 180.5 645.2 175.7 645.7 171.5 646.2 168.1 646.7 165.6 647.2 164.0 647.7 163.5 648.2 164.0 648.7 165.4 649.1 167.6 649.6 170.7 650.1 174.5 650.6 178.9 651.0 183.7 651.5 188.9 652.0 194.2 652.5 199.6 653.0 204.8 653.4 209.6 653.9 214.0 654.4 217.8 654.9 220.9 655.3 223.1 655.8 224.5 656.3 225.0 656.8 224.6 657.3 223.3 657.8 221.3 658.2 218.5 658.7 215.0 659.2 211.0 659.7 206.5 660.2 201.7 660.7 196.7 661.1 191.6 661.6 186.6 662.1 181.8 662.6 177.3 663.1 173.3 663.6 169.8 664.0 167.0 664.5 165.0 665.0 163.7 665.5 163.3 666.0 163.9 666.5 165.7 667.0 168.6 667.5 172.5 667.9 177.3 668.4 182.7 668.9 188.6 669.4 194.7 669.9 200.8 670.4 206.7 670.9 212.1 671.3 216.9 671.8 220.8 672.3 223.7 672.8 225.5 673.3 226.1 673.8 225.5 674.3 223.7 674.7 220.7 675.2 216.7 675.7 211.9 676.2 206.3 676.7 200.3 677.1 194.1 677.6 187.8 678.1 181.8 678.6 176.2 679.1 171.4 679.6 167.4 680.0 164.4 680.5 162.6 681.0 162.0 681.5 162.5 682.0 163.9 682.5 166.3 683.0 169.5 683.5 173.4 684.0 178.0 684.5 183.1" stroke="#95c47d" stroke-width="2.4"/>
<path d="M41.0 194.0L41.5 194.0 42.0 194.0 42.5 194.0 43.0 194.0 43.5 194.0 44.0 194.0 44.5 194.0 45.0 194.0 45.5 194.0 46.0 194.0 46.5 194.0 47.0 194.0 47.5 194.0 48.0 194.0 48.5 194.0 49.0 194.0 49.5 194.0 50.0 194.0 50.5 194.0 51.0 194.0 51.5 194.0 52.0 194.0 52.5 194.0 53.0 194.0 53.5 194.0 54.0 194.0 54.5 194.0 55.0 194.0 55.5 194.0 56.0 194.0 56.5 194.0 57.0 194.0 57.5 194.0 58.0 194.0 58.5 194.0 59.0 194.0 59.5 194.0 60.0 194.0 60.5 194.0 61.0 194.0 61.5 194.0 62.0 194.0 62.5 194.1 63.0 194.1 63.5 194.1 64.0 194.2 64.5 194.2 65.0 194.2 65.5 194.3 66.0 194.3 66.5 194.3 67.0 194.4 67.5 194.4 68.0 194.4 68.5 194.5 69.0 194.5 69.5 194.5 70.0 194.6 70.5 194.6 71.0 194.6 71.5 194.6 72.0 194.6 72.5 194.6 73.0 194.6 73.5 194.6 74.0 194.6 74.5 194.6 75.0 194.6 75.5 194.6 76.0 194.6 76.5 194.6 77.0 194.6 77.5 194.6 78.0 194.6 78.5 194.6 79.0 194.6 79.5 194.6 80.0 194.6 80.5 194.6 81.0 194.6 81.5 194.6 82.0 194.6 82.5 194.6 83.0 194.6 83.5 194.6 84.0 194.5 84.5 194.5 85.0 194.5 85.5 194.5 86.0 194.5 86.5 194.5 87.0 194.5 87.5 194.5 88.0 194.5 88.5 194.5 89.0 194.5 89.5 194.5 90.0 194.5 90.5 194.5 91.0 194.5 91.5 194.5 92.0 194.5 92.5 194.5 93.0 194.5 93.5 194.5 94.0 194.5 94.5 194.5 95.0 194.5 95.5 194.5 96.0 194.5 96.5 194.5 97.0 194.5 97.5 194.5 98.0 194.4 98.5 194.4 99.0 194.4 99.5 194.4 100.0 194.3 100.5 194.3 101.0 194.3 101.5 194.2 102.0 194.2 102.5 194.2 103.0 194.1 103.5 194.1 104.0 194.0 104.5 194.0 105.0 194.0 105.5 193.9 106.0 193.9 106.5 193.9 107.0 193.9 107.5 193.8 108.0 193.8 108.5 193.8 109.0 193.8 109.5 193.8 110.0 193.8 110.5 193.8 111.0 193.8 111.5 193.8 112.0 193.8 112.5 193.8 113.0 193.7 113.5 193.7 114.0 193.7 114.5 193.7 115.0 193.7 115.5 193.6 116.0 193.6 116.5 193.6 117.0 193.5 117.5 193.5 118.0 193.5 118.5 193.4 119.0 193.4 119.5 193.4 120.0 193.3 120.5 193.3 121.0 193.3 121.5 193.3 122.0 193.3 122.5 193.2 123.0 193.2 123.5 193.2 124.0 193.2 124.5 193.2 125.0 193.2 125.5 193.2 126.0 193.2 126.5 193.2 127.0 193.2 127.5 193.2 128.0 193.2 128.5 193.2 129.0 193.2 129.5 193.2 130.0 193.2 130.5 193.2 131.0 193.2 131.5 193.2 132.0 193.2 132.5 193.2 133.0 193.2 133.5 193.2 134.0 193.2 134.5 193.2 135.0 193.2 135.5 193.2 136.0 193.2 136.5 193.2 137.0 193.2 137.5 193.2 138.0 193.2 138.5 193.2 139.0 193.2 139.5 193.2 140.0 193.2 140.5 193.2 141.0 193.2 141.5 193.2 142.0 193.2 142.5 193.2 143.0 193.2 143.5 193.2 144.0 193.2 144.5 193.2 145.0 193.2 145.5 193.2 146.0 193.2 146.5 193.2 147.0 193.2 147.5 193.2 148.0 193.2 148.5 193.2 149.0 193.2 149.5 193.2 150.0 193.2 150.5 193.2 151.0 193.2 151.5 193.2 152.0 193.2 152.5 193.2 153.0 193.2 153.5 193.2 154.0 193.2 154.5 193.2 155.0 193.3 155.5 193.3 156.0 193.3 156.5 193.3 157.0 193.3 157.5 193.3 158.0 193.3 158.5 193.4 159.0 193.4 159.5 193.4 160.0 193.4 160.5 193.4 161.0 193.4 161.5 193.4 162.0 193.5 162.5 193.5 163.0 193.5 163.5 193.5 164.0 193.5 164.5 193.5 165.0 193.5 165.5 193.6 166.0 193.6 166.5 193.6 167.0 193.6 167.5 193.6 168.0 193.6 168.5 193.6 169.0 193.6 169.5 193.6 170.0 193.6 170.5 193.6 171.0 193.6 171.5 193.6 172.0 193.6 172.5 193.6 173.0 193.6 173.5 193.7 174.0 193.7 174.5 193.7 175.0 193.7 175.5 193.7 176.0 193.7 176.5 193.8 177.0 193.8 177.5 193.8 178.0 193.8 178.5 193.9 179.0 193.9 179.5 193.9 180.0 193.9 180.5 194.0 181.0 194.0 181.5 194.0 182.0 194.1 182.5 194.1 183.0 194.1 183.5 194.1 184.0 194.2 184.5 194.2 185.0 194.2 185.5 194.2 186.0 194.2 186.5 194.2 187.0 194.3 187.5 194.3 188.0 194.3 188.5 194.3 189.0 194.3 189.5 194.3 190.0 194.3 190.5 194.3 191.0 194.3 191.5 194.3 192.0 194.3 192.5 194.3 193.0 194.3 193.5 194.3 194.0 194.3 194.5 194.3 195.0 194.3 195.5 194.3 196.0 194.3 196.5 194.3 197.0 194.3 197.5 194.3 198.0 194.3 198.5 194.3 199.0 194.3 199.5 194.3 200.0 194.3 200.5 194.3 201.0 194.4 201.5 194.4 202.0 194.4 202.5 194.4 203.0 194.4 203.5 194.4 204.0 194.4 204.5 194.4 205.0 194.4 205.5 194.4 206.0 194.4 206.5 194.4 207.0 194.4 207.5 194.4 208.0 194.4 208.5 194.4 209.0 194.4 209.5 194.4 210.0 194.4 210.5 194.5 211.0 194.5 211.5 194.5 212.0 194.5 212.5 194.5 213.0 194.5 213.5 194.5 214.0 194.5 214.5 194.5 215.0 194.5 215.5 194.5 216.0 194.5 216.5 194.5 217.0 194.5 217.5 194.5 218.0 194.5 218.5 194.5 219.0 194.5 219.5 194.6 220.0 194.6 220.5 194.6 221.0 194.6 221.5 194.6 222.0 194.6 222.5 194.6 223.0 194.6 223.5 194.6 224.0 194.6 224.5 194.6 225.0 194.6 225.5 194.6 226.0 194.6 226.5 194.6 227.0 194.6 227.5 194.6 228.0 194.6 228.5 194.6 229.0 194.6 229.5 194.6 230.0 194.6 230.5 194.6 231.0 194.6 231.5 194.6 232.0 194.6 232.5 194.6 233.0 194.6 233.5 194.6 234.0 194.6 234.5 194.6 235.0 194.6 235.5 194.6 236.0 194.6 236.5 194.5 237.0 194.5 237.5 194.5 238.0 194.5 238.5 194.5 239.0 194.5 239.5 194.5 240.0 194.5 240.5 194.5 241.0 194.5 241.5 194.4 242.0 194.4 242.5 194.4 243.0 194.4 243.5 194.4 244.0 194.4 244.5 194.4 245.0 194.3 245.5 194.3 246.0 194.3 246.5 194.3 247.0 194.3 247.5 194.3 248.0 194.3 248.5 194.3 249.0 194.2 249.5 194.2 250.0 194.2 250.5 194.2 251.0 194.2 251.5 194.2 252.0 194.2 252.5 194.2 253.0 194.2 253.5 194.2 254.0 194.1 254.5 194.1 255.0 194.1 255.5 194.1 256.0 194.1 256.5 194.1 257.0 194.1 257.5 194.1 258.0 194.1 258.5 194.1 259.0 194.1 259.5 194.1 260.0 194.1 260.5 194.1 261.0 194.1 261.5 194.1 262.0 194.1 262.5 194.1 263.0 194.1 263.5 194.1 264.0 194.1 264.5 194.1 265.0 194.1 265.5 194.2 266.0 194.2 266.5 194.2 267.0 194.2 267.5 194.2 268.0 194.2 268.5 194.2 269.0 194.2 269.5 194.2 270.0 194.2 270.5 194.3 271.0 194.3 271.5 194.3 272.0 194.3 272.5 194.3 273.0 194.3 273.5 194.3 274.0 194.3 274.5 194.3 275.0 194.4 275.5 194.4 276.0 194.4 276.5 194.4 277.0 194.4 277.5 194.4 278.0 194.4 278.5 194.4 279.0 194.4 279.5 194.4 280.0 194.4 280.5 194.4 281.0 194.4 281.5 194.3 282.0 194.3 282.5 194.2 283.0 194.1 283.5 194.1 284.0 194.0 284.5 193.9 285.0 193.8 285.5 193.8 286.0 193.7 286.5 193.7 287.0 193.7 287.5 193.7 288.0 193.7 288.5 193.8 288.9 193.8 289.4 193.9 289.9 193.9 290.4 194.0 290.9 194.1 291.4 194.2 291.9 194.3 292.4 194.4 292.9 194.5 293.3 194.7 293.8 194.8 294.3 194.9 294.8 195.0 295.3 195.1 295.8 195.2 296.3 195.2 296.8 195.3 297.2 195.3 297.7 195.4 298.2 195.4 298.7 195.4 299.2 195.4 299.7 195.3 300.2 195.3 300.7 195.2 301.2 195.1 301.6 195.0 302.1 194.9 302.6 194.8 303.1 194.7 303.6 194.7 304.1 194.6 304.6 194.6 305.1 194.6 305.6 194.6 306.1 194.6 306.6 194.5 307.1 194.5 307.6 194.4 308.1 194.4 308.6 194.4 309.1 194.3 309.6 194.3 310.1 194.2 310.6 194.2 311.1 194.2 311.6 194.2 312.1 194.2 312.6 194.2 313.1 194.3 313.6 194.4 314.1 194.5 314.6 194.6 315.1 194.7 315.6 194.9 316.1 195.0 316.6 195.2 317.1 195.3 317.6 195.5 318.1 195.6 318.6 195.7 319.1 195.8 319.6 195.9 320.1 196.0 320.6 196.0 321.1 196.0 321.6 196.0 322.1 195.9 322.6 195.8 323.0 195.7 323.5 195.5 324.0 195.3 324.5 195.1 325.0 194.8 325.5 194.6 325.9 194.3 326.4 194.1 326.9 193.8 327.4 193.6 327.9 193.4 328.4 193.2 328.8 193.1 329.3 193.0 329.8 192.9 330.3 192.9 330.8 192.9 331.3 193.1 331.7 193.3 332.2 193.6 332.7 194.0 333.2 194.4 333.6 194.8 334.1 195.2 334.6 195.6 335.1 196.0 335.6 196.3 336.0 196.5 336.5 196.7 337.0 196.7 337.5 196.6 337.9 196.5 338.4 196.2 338.9 195.8 339.4 195.3 339.8 194.8 340.3 194.2 340.8 193.6 341.3 193.0 341.7 192.5 342.2 192.0 342.7 191.6 343.2 191.3 343.6 191.2 344.1 191.1 344.6 191.2 345.1 191.4 345.5 191.7 346.0 192.2 346.5 192.7 347.0 193.4 347.5 194.1 348.0 194.8 348.4 195.6 348.9 196.3 349.4 197.0 349.9 197.7 350.4 198.2 350.9 198.7 351.3 199.0 351.8 199.2 352.3 199.3 352.8 199.2 353.3 198.9 353.7 198.4 354.2 197.7 354.7 196.9 355.2 196.0 355.7 195.0 356.1 194.0 356.6 192.9 357.1 191.9 357.6 191.0 358.1 190.2 358.6 189.5 359.0 189.0 359.5 188.7 360.0 188.6 360.5 188.7 361.0 188.9 361.5 189.3 361.9 189.9 362.4 190.6 362.9 191.4 363.4 192.3 363.9 193.3 364.4 194.3 364.9 195.3 365.3 196.4 365.8 197.4 366.3 198.4 366.8 199.3 367.3 200.1 367.8 200.8 368.2 201.4 368.7 201.8 369.2 202.0 369.7 202.1 370.2 202.0 370.7 201.6 371.1 201.0 371.6 200.2 372.1 199.3 372.6 198.1 373.1 196.9 373.6 195.5 374.0 194.2 374.5 192.8 375.0 191.4 375.5 190.2 376.0 189.0 376.5 188.1 376.9 187.3 377.4 186.7 377.9 186.3 378.4 186.2 378.9 186.3 379.4 186.8 379.9 187.5 380.4 188.4 380.9 189.6 381.4 190.9 381.9 192.4 382.4 194.0 382.9 195.5 383.4 197.1 383.9 198.6 384.4 199.9 384.9 201.1 385.4 202.0 385.9 202.7 386.4 203.2 386.9 203.3 387.4 203.1 387.9 202.7 388.4 201.9 388.9 200.9 389.4 199.6 389.9 198.2 390.4 196.6 390.9 195.0 391.4 193.4 391.9 191.8 392.4 190.4 392.9 189.1 393.4 188.1 393.9 187.3 394.4 186.9 394.9 186.7 395.4 186.8 395.9 187.0 396.4 187.4 396.8 187.9 397.3 188.5 397.8 189.3 398.3 190.1 398.8 191.1 399.3 192.0 399.8 193.0 400.2 194.0 400.7 194.9 401.2 195.9 401.7 196.7 402.2 197.5 402.7 198.1 403.1 198.6 403.6 199.0 404.1 199.2 404.6 199.3 405.1 199.2 405.6 199.0 406.1 198.6 406.6 198.0 407.1 197.4 407.6 196.7 408.1 195.9 408.5 195.1 409.0 194.4 409.5 193.8 410.0 193.2 410.5 192.8 411.0 192.6 411.5 192.5 412.0 192.6 412.5 192.8 413.0 193.1 413.4 193.5 413.9 194.0 414.4 194.5 414.9 195.0 415.4 195.5 415.9 196.0 416.3 196.4 416.8 196.7 417.3 196.9 417.8 197.0 418.3 196.9 418.8 196.8 419.2 196.5 419.7 196.1 420.2 195.7 420.7 195.2 421.1 194.8 421.6 194.3 422.1 193.9 422.6 193.5 423.0 193.2 423.5 193.1 424.0 193.0 424.5 193.1 425.0 193.4 425.5 193.8 426.0 194.4 426.5 195.1 427.0 195.8 427.5 196.6 428.0 197.3 428.5 198.0 429.0 198.6 429.5 199.0 430.0 199.3 430.5 199.4 431.0 199.3 431.5 199.0 431.9 198.5 432.4 197.8 432.9 196.9 433.4 195.9 433.9 194.8 434.3 193.6 434.8 192.3 435.3 191.1 435.8 189.8 436.2 188.6 436.7 187.5 437.2 186.5 437.7 185.6 438.2 184.9 438.6 184.4 439.1 184.1 439.6 184.0 440.1 184.2 440.6 184.7 441.1 185.6 441.6 186.8 442.1 188.3 442.6 189.9 443.1 191.7 443.5 193.5 444.0 195.3 444.5 196.9 445.0 198.4 445.5 199.6 446.0 200.5 446.5 201.0 447.0 201.2 447.5 201.1 448.0 200.8 448.4 200.3 448.9 199.6 449.4 198.8 449.9 197.9 450.4 196.9 450.9 195.8 451.3 194.7 451.8 193.6 452.3 192.6 452.8 191.7 453.3 190.9 453.8 190.2 454.2 189.7 454.7 189.4 455.2 189.3 455.7 189.4 456.2 189.5 456.7 189.8 457.1 190.2 457.6 190.7 458.1 191.2 458.6 191.8 459.1 192.3 459.6 192.9 460.1 193.4 460.6 193.9 461.0 194.3 461.5 194.6 462.0 194.7 462.5 194.8 463.0 194.9 463.4 195.2 463.9 195.5 464.4 196.0 464.8 196.5 465.3 196.8 465.7 197.1 466.2 197.2 466.7 197.1 467.2 196.9 467.6 196.6 468.1 196.2 468.6 195.6 469.1 195.0 469.6 194.3 470.1 193.6 470.5 192.9 471.0 192.2 471.5 191.5 472.0 190.9 472.5 190.3 473.0 189.9 473.4 189.6 473.9 189.4 474.4 189.3 474.9 189.4 475.4 189.6 475.9 189.9 476.4 190.3 476.8 190.9 477.3 191.5 477.8 192.2 478.3 193.0 478.8 193.8 479.3 194.6 479.8 195.4 480.3 196.2 480.8 196.9 481.3 197.5 481.7 198.1 482.2 198.5 482.7 198.8 483.2 199.0 483.7 199.1 484.2 199.0 484.7 198.6 485.2 197.9 485.7 197.0 486.2 195.9 486.7 194.6 487.2 193.2 487.7 191.7 488.1 190.2 488.6 188.6 489.1 187.1 489.6 185.7 490.1 184.4 490.6 183.3 491.1 182.4 491.6 181.7 492.1 181.3 492.6 181.2 493.1 181.6 493.6 182.6 494.1 184.4 494.6 186.8 495.0 189.6 495.5 192.9 496.0 196.5 496.5 200.2 497.0 203.9 497.5 207.5 498.0 210.8 498.4 213.6 498.9 216.0 499.4 217.8 499.9 218.8 500.4 219.2 500.9 218.8 501.4 217.4 501.9 215.2 502.4 212.3 502.9 208.7 503.4 204.4 503.9 199.8 504.4 194.8 504.9 189.7 505.3 184.6 505.8 179.6 506.3 174.9 506.8 170.7 507.3 167.1 507.8 164.2 508.3 162.0 508.8 160.6 509.3 160.2 509.8 160.8 510.3 162.6 510.7 165.5 511.2 169.5 511.7 174.4 512.2 180.0 512.6 186.1 513.1 192.6 513.6 199.1 514.1 205.6 514.5 211.7 515.0 217.3 515.5 222.2 516.0 226.2 516.4 229.1 516.9 230.9 517.4 231.5 517.9 231.0 518.4 229.3 518.9 226.7 519.4 223.0 519.9 218.5 520.4 213.3 520.9 207.5 521.4 201.2 521.9 194.7 522.3 188.0 522.8 181.5 523.3 175.2 523.8 169.4 524.3 164.2 524.8 159.7 525.3 156.0 525.8 153.4 526.3 151.7 526.8 151.2 527.3 152.0 527.8 154.3 528.3 158.1 528.8 163.2 529.2 169.4 529.7 176.4 530.2 184.1 530.7 192.1 531.2 200.1 531.7 207.8 532.2 214.8 532.6 221.0 533.1 226.1 533.6 229.9 534.1 232.2 534.6 233.0 535.1 232.5 535.6 230.8 536.1 228.2 536.6 224.6 537.0 220.1 537.5 215.0 538.0 209.3 538.5 203.3 539.0 197.0 539.5 190.7 540.0 184.7 540.5 179.0 541.0 173.9 541.4 169.4 541.9 165.8 542.4 163.2 542.9 161.5 543.4 161.0 543.9 161.6 544.4 163.2 544.8 166.0 545.3 169.7 545.8 174.2 546.3 179.5 546.7 185.3 547.2 191.6 547.7 198.0 548.2 204.4 548.7 210.7 549.1 216.5 549.6 221.8 550.1 226.3 550.6 230.0 551.0 232.8 551.5 234.4 552.0 235.0 552.5 234.3 553.0 232.4 553.5 229.2 554.0 225.0 554.5 219.7 555.0 213.7 555.5 207.0 556.0 200.1 556.5 192.9 557.0 186.0 557.5 179.3 558.0 173.3 558.5 168.0 559.0 163.8 559.5 160.6 560.0 158.7 560.5 158.0 561.0 158.6 561.5 160.3 562.0 163.2 562.4 167.1 562.9 171.9 563.4 177.5 563.9 183.7 564.4 190.4 564.9 197.4 565.3 204.6 565.8 211.6 566.3 218.3 566.8 224.5 567.3 230.1 567.8 234.9 568.2 238.8 568.7 241.7 569.2 243.4 569.7 244.0 570.2 243.3 570.7 241.1 571.2 237.6 571.7 232.8 572.1 226.9 572.6 220.0 573.1 212.3 573.6 204.0 574.1 195.4 574.6 186.7 575.1 178.1 575.6 169.8 576.1 162.1 576.6 155.2 577.0 149.3 577.5 144.5 578.0 141.0 578.5 138.8 579.0 138.1 579.5 139.1 580.0 142.2 580.5 147.2 581.0 154.0 581.5 162.3 582.0 171.9 582.5 182.3 583.0 193.4 583.4 204.6 583.9 215.7 584.4 226.1 584.9 235.7 585.4 244.0 585.9 250.8 586.4 255.8 586.9 258.9 587.4 259.9 587.9 258.8 588.4 255.6 588.9 250.5 589.4 243.5 589.9 234.9 590.4 225.0 590.9 214.2 591.4 202.8 591.8 191.1 592.3 179.7 592.8 168.9 593.3 159.0 593.8 150.4 594.3 143.4 594.8 138.3 595.3 135.1 595.8 134.0 596.3 135.1 596.8 138.5 597.3 144.0 597.8 151.4 598.2 160.3 598.7 170.6 599.2 181.7 599.7 193.2 600.2 204.8 600.7 215.9 601.2 226.2 601.6 235.1 602.1 242.5 602.6 248.0 603.1 251.4 603.6 252.5 604.1 251.8 604.6 249.6 605.0 246.0 605.5 241.1 606.0 235.0 606.5 228.0 607.0 220.1 607.4 211.7 607.9 202.9 608.4 193.9 608.9 185.1 609.3 176.7 609.8 168.8 610.3 161.8 610.8 155.7 611.3 150.8 611.7 147.2 612.2 145.0 612.7 144.3 613.2 145.3 613.7 148.2 614.1 152.9 614.6 159.2 615.1 167.0 615.5 175.8 616.0 185.4 616.5 195.3 617.0 205.2 617.5 214.8 617.9 223.6 618.4 231.4 618.9 237.7 619.3 242.4 619.8 245.3 620.3 246.3 620.8 245.6 621.3 243.6 621.8 240.2 622.2 235.6 622.7 230.0 623.2 223.4 623.7 216.0 624.2 208.1 624.7 199.8 625.1 191.5 625.6 183.2 626.1 175.3 626.6 167.9 627.1 161.3 627.6 155.7 628.0 151.1 628.5 147.7 629.0 145.7 629.5 145.0 630.0 145.9 630.5 148.6 630.9 153.0 631.4 158.9 631.9 166.2 632.4 174.6 632.8 183.8 633.3 193.5 633.8 203.4 634.3 213.1 634.7 222.3 635.2 230.7 635.7 238.0 636.2 243.9 636.6 248.3 637.1 251.0 637.6 251.9 638.1 251.2 638.6 249.2 639.1 245.8 639.6 241.2 640.0 235.5 640.5 228.9 641.0 221.4 641.5 213.3 642.0 204.8 642.5 196.1 643.0 187.3 643.5 178.8 644.0 170.7 644.5 163.2 645.0 156.6 645.4 150.9 645.9 146.3 646.4 142.9 646.9 140.9 647.4 140.2 647.9 141.1 648.4 143.9 648.8 148.5 649.3 154.7 649.8 162.3 650.3 171.0 650.7 180.5 651.2 190.6 651.7 200.8 652.2 210.9 652.6 220.4 653.1 229.1 653.6 236.7 654.1 242.9 654.5 247.5 655.0 250.3 655.5 251.2 656.0 250.4 656.5 248.1 657.0 244.3 657.5 239.1 657.9 232.7 658.4 225.2 658.9 216.9 659.4 207.9 659.9 198.5 660.4 189.1 660.9 179.7 661.4 170.7 661.9 162.4 662.4 154.9 662.8 148.5 663.3 143.3 663.8 139.5 664.3 137.2 664.8 136.4 665.3 137.5 665.8 140.7 666.2 146.0 666.7 153.0 667.2 161.6 667.6 171.4 668.1 182.0 668.6 193.1 669.1 204.2 669.5 214.8 670.0 224.6 670.5 233.2 671.0 240.2 671.4 245.5 671.9 248.7 672.4 249.8 672.9 249.1 673.4 247.0 673.8 243.5 674.3 238.8 674.8 232.9 675.3 226.1 675.8 218.4 676.2 210.3 676.7 201.7 677.2 193.1 677.7 184.5 678.1 176.4 678.6 168.7 679.1 161.9 679.6 156.0 680.1 151.3 680.5 147.8 681.0 145.7 681.5 145.0 682.0 145.9 682.5 148.5 683.0 152.9 683.5 158.7 684.0 165.9 684.5 174.1" stroke="#e5872b" stroke-width="2.4"/>
</g>
<g stroke="#666" stroke-width="1.8">
<line x1="46.9" y1="384" x2="46.9" y2="394"/>
<line x1="127.2" y1="384" x2="127.2" y2="394"/>
<line x1="207.5" y1="384" x2="207.5" y2="394"/>
<line x1="287.8" y1="384" x2="287.8" y2="394"/>
<line x1="368.1" y1="384" x2="368.1" y2="394"/>
<line x1="448.4" y1="384" x2="448.4" y2="394"/>
<line x1="528.8" y1="384" x2="528.8" y2="394"/>
<line x1="609.1" y1="384" x2="609.1" y2="394"/>
<line x1="40" y1="40.0" x2="49.5" y2="40.0"/>
<line x1="40" y1="118.2" x2="49.5" y2="118.2"/>
<line x1="40" y1="195.3" x2="49.5" y2="195.3"/>
<line x1="40" y1="273.0" x2="49.5" y2="273.0"/>
<line x1="40" y1="350.4" x2="49.5" y2="350.4"/>
</g>
<rect x="40" y="1.8" width="643" height="392.2" fill="none" stroke="#000" stroke-width="2.2"/>
<g font-size="17.5" text-anchor="middle" letter-spacing="0.35">
<text x="47.4" y="410.1">39</text>
<text x="127.0" y="410.1">39.5</text>
<text x="203.1" y="410.1">40</text>
<text x="286.2" y="410.1">40.5</text>
<text x="364.6" y="410.1">41</text>
<text x="453.4" y="410.1">41.5</text>
<text x="529.0" y="410.1">42</text>
<text x="609.4" y="410.1">42.5</text>
</g>
<g font-size="17.5" text-anchor="end">
<text x="34.6" y="45.8">10</text>
<text x="34.6" y="124.7">5</text>
<text x="34.6" y="201.5">0</text>
<text x="34.6" y="279.4">-5</text>
<text x="34.6" y="355.7">-10</text>
</g>
<text x="347" y="434" font-size="17.5" text-anchor="middle" letter-spacing="0.25">Time [ns]</text>
<text transform="translate(14.3 194.5) rotate(-90)" font-size="17.9" text-anchor="middle">Amplitude [mV]</text>
<rect x="44" y="7.9" width="17.5" height="17.1" fill="#165189"/>
<rect x="88" y="7" width="17" height="17.1" fill="#95c47d"/>
<rect x="217" y="7" width="17.5" height="17.1" fill="#e5872b"/>
<g font-size="12.15">
<text x="64.5" y="20.3">ref</text>
<text x="109.5" y="20.3">sam without 1st pp</text>
<text x="239.2" y="20.3">sam without 2nd pp</text>
</g>
</svg>
</body></html>
